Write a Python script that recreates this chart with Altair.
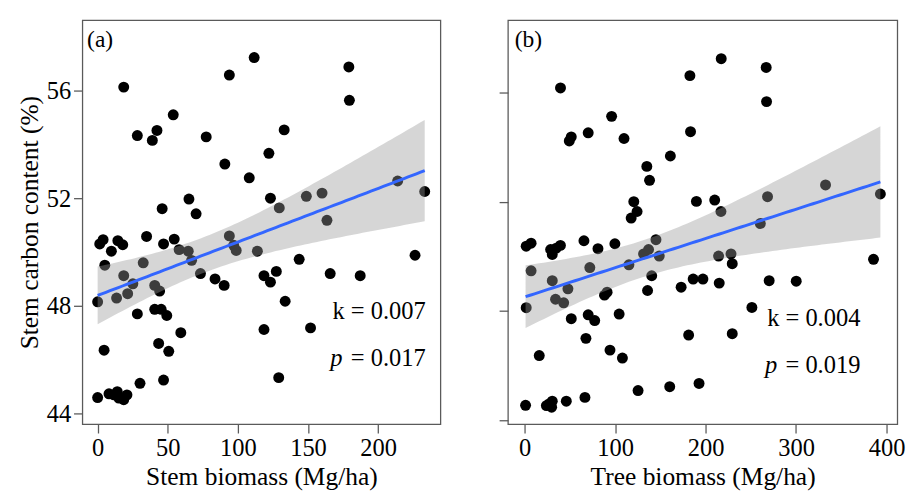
import altair as alt
import numpy as np
import pandas as pd

# ---- data ----
stem_x = [18.6, 28.3, 39.0, 42.3, 53.9, 77.4, 93.9, 111.6, 90.7, 108.1, 122.1, 65.1, 46.0, 70.2,
          179.1, 179.5, 133.0, 123.2, 129.5, 148.8, 160.0, 163.5, 213.9, 233.2,
          1.5, 3.9, 9.8, 14.4, 17.9, 34.9, 47.0, 54.6, 58.1, 64.6, 67.0, 5.1, 32.5, 73.3, 83.7,
          90.2, 93.9, 98.8, 97.0, 113.9, 118.6, 18.6, 25.1, 21.4, 13.5, 0.0, 40.7, 44.2, 143.7,
          123.2, 127.4, 165.8, 187.2, 226.3, 133.7,
          28.3, 40.7, 45.3, 49.3, 59.3, 118.6, 151.8, 4.6, 43.5, 50.7, 47.0, 30.2, 129.1, 0.0,
          8.1, 11.6, 14.0, 15.1, 18.6, 20.9]
stem_y = [56.13, 54.33, 54.15, 54.52, 55.10, 54.28, 56.58, 57.23, 53.27, 52.76, 53.67, 51.97, 51.61, 51.42,
          56.88, 55.64, 54.54, 52.00, 51.64, 52.07, 52.19, 51.18, 52.64, 52.25,
          50.30, 50.46, 50.03, 50.42, 50.27, 50.58, 50.30, 50.48, 50.09, 50.03, 49.69, 49.51, 49.60, 49.20, 49.00,
          48.76, 50.60, 50.06, 50.25, 50.03, 49.12, 49.12, 48.82, 48.45, 48.29, 48.15, 48.76, 48.55, 49.73,
          48.88, 49.28, 49.20, 49.12, 49.88, 48.17,
          47.70, 47.87, 47.87, 47.64, 47.00, 47.12, 47.18, 46.35, 46.60, 46.31, 45.24, 45.12, 45.33, 44.59,
          44.73, 44.69, 44.81, 44.57, 44.51, 44.69]

tree_x = [39.7, 182.7, 96.2, 51.6, 49.4, 70.3, 109.9, 183.4, 161.1, 135.1, 138.1, 189.9, 120.7, 124.3,
          117.8, 217.3, 267.0, 267.4, 210.1, 217.0, 268.5, 332.6, 393.2, 260.5,
          1.8, 7.2, 28.8, 30.6, 39.6, 35.0, 65.6, 81.1, 99.8, 7.2, 72.1, 30.6, 47.9, 34.2, 43.2,
          1.8, 88.3, 91.2, 115.3, 131.5, 137.0, 145.2, 148.8, 140.5, 135.9, 173.0, 186.3, 197.1,
          214.4, 228.1, 229.5, 385.6, 215.1, 270.3, 300.2,
          251.2, 51.6, 70.3, 77.5, 104.5, 67.8, 181.3, 229.5, 16.2, 94.4, 108.1, 125.4, 160.4,
          192.8, 1.1, 24.1, 30.6, 29.9, 27.0, 46.1, 66.7]
tree_y = [56.16, 56.61, 55.12, 54.37, 54.22, 54.52, 54.31, 54.56, 53.67, 53.29, 52.78, 52.01, 52.00, 51.64,
          51.40, 57.23, 56.91, 55.66, 52.06, 51.64, 52.18, 52.61, 52.28, 51.20,
          50.37, 50.48, 50.25, 50.07, 50.40, 50.30, 50.57, 50.28, 50.46, 49.47, 49.59, 49.11, 48.81, 48.43, 48.30,
          48.12, 48.58, 48.69, 49.69, 50.09, 50.25, 50.61, 50.01, 49.29, 48.75, 48.87, 49.17, 49.17,
          50.01, 50.09, 49.73, 49.89, 49.02, 49.11, 49.09,
          48.13, 47.72, 47.86, 47.65, 47.89, 47.00, 47.12, 47.17, 46.37, 46.57, 46.28, 45.09, 45.23,
          45.35, 44.55, 44.54, 44.70, 44.48, 44.60, 44.70, 44.84]

y_ticks = [44, 48, 52, 56]
stem_ticks = [0, 50, 100, 150, 200]
tree_ticks = [0, 100, 200, 300, 400]

stem_k = "k = 0.007"
stem_p = "= 0.017"
tree_k = "k = 0.004"
tree_p = "= 0.019"

FONT = "Liberation Serif"
FRAME = "#5a5a5a"


def fit_band(xs, ys, n_pts=80, t=1.991):
    x = np.asarray(xs, float)
    y = np.asarray(ys, float)
    n = len(x)
    xm = x.mean()
    sxx = ((x - xm) ** 2).sum()
    b1 = ((x - xm) * (y - y.mean())).sum() / sxx
    b0 = y.mean() - b1 * xm
    s = np.sqrt(((y - (b0 + b1 * x)) ** 2).sum() / (n - 2))
    g = np.linspace(x.min(), x.max(), n_pts)
    f = b0 + b1 * g
    se = s * np.sqrt(1.0 / n + (g - xm) ** 2 / sxx)
    return pd.DataFrame({"x": g, "fit": f, "lo": f - t * se, "hi": f + t * se})


def panel(xs, ys, xdom, ydom, xticks, xtitle, ytitle, show_ylabels, tag, tag_pos,
          ktext, ptext, kx, ky, py, width):
    pts = pd.DataFrame({"x": xs, "y": ys})
    band = fit_band(xs, ys)
    xsc = alt.Scale(domain=xdom, nice=False, zero=False)
    ysc = alt.Scale(domain=ydom, nice=False, zero=False)
    xax = alt.Axis(values=xticks, title=xtitle, labelFlush=False)
    if show_ylabels:
        yax = alt.Axis(values=y_ticks, title=ytitle)
    else:
        yax = alt.Axis(values=y_ticks, labels=False, title=None)

    points = alt.Chart(pts).mark_circle(size=125, color="black", opacity=1).encode(
        x=alt.X("x:Q", scale=xsc, axis=xax),
        y=alt.Y("y:Q", scale=ysc, axis=yax),
    )
    area = alt.Chart(band).mark_area(color="#999999", opacity=0.4).encode(
        x=alt.X("x:Q", scale=xsc, axis=xax),
        y=alt.Y("lo:Q", scale=ysc, axis=yax),
        y2="hi:Q",
    )
    line = alt.Chart(band).mark_line(color="#3366FF", strokeWidth=3).encode(
        x=alt.X("x:Q", scale=xsc, axis=xax),
        y=alt.Y("fit:Q", scale=ysc, axis=yax),
    )
    tag_df = pd.DataFrame({"x": [tag_pos[0]], "y": [tag_pos[1]], "t": [tag]})
    tag_mark = alt.Chart(tag_df).mark_text(font=FONT, fontSize=24, align="left",
                                           baseline="middle", color="black").encode(
        x=alt.X("x:Q", scale=xsc), y=alt.Y("y:Q", scale=ysc), text="t:N")
    kp = pd.DataFrame({"x": [kx, kx], "y": [ky, py], "t": [ktext, ptext]})
    kp_mark = alt.Chart(kp).mark_text(font=FONT, fontSize=25, align="right",
                                      baseline="middle", color="black").encode(
        x=alt.X("x:Q", scale=xsc), y=alt.Y("y:Q", scale=ysc), text="t:N")
    pi = pd.DataFrame({"x": [kx], "y": [py], "t": ["p"]})
    p_mark = alt.Chart(pi).mark_text(font=FONT, fontSize=25, fontStyle="italic",
                                     align="right", baseline="middle", dx=-85,
                                     color="black").encode(
        x=alt.X("x:Q", scale=xsc), y=alt.Y("y:Q", scale=ysc), text="t:N")
    return alt.layer(points, area, line, tag_mark, kp_mark, p_mark).properties(
        width=width, height=413)


left = panel(stem_x, stem_y, [-10.9, 244.4], [43.60, 58.62], stem_ticks,
             "Stem biomass (Mg/ha)", "Stem carbon content (%)", True, "(a)", [-7.5, 57.89],
             stem_k, stem_p, 233.9, 47.81, 46.06, 366)
right = panel(tree_x, tree_y, [-18.4, 411.9], [43.86, 58.64], tree_ticks,
              "Tree biomass (Mg/ha)", None, False, "(b)", [-10.8, 57.89],
              tree_k, tree_p, 371.1, 47.73, 46.03, 398)

chart = alt.hconcat(left, right, spacing=57).properties(
    padding={"left": 8, "top": 6, "right": 5, "bottom": 0}
).configure_view(
    stroke=FRAME, strokeWidth=1.3
).configure_axis(
    domain=False, grid=False, ticks=True, tickColor=FRAME, tickWidth=1.3, tickSize=9,
    labelFont=FONT, labelFontSize=25, labelColor="black", labelPadding=3,
    titleFont=FONT, titleFontSize=26, titleFontWeight="normal", titleColor="black",
    titlePadding=4
).configure_concat(spacing=57)

chart.save("out.html", embed_options={"renderer": "svg", "actions": False})
